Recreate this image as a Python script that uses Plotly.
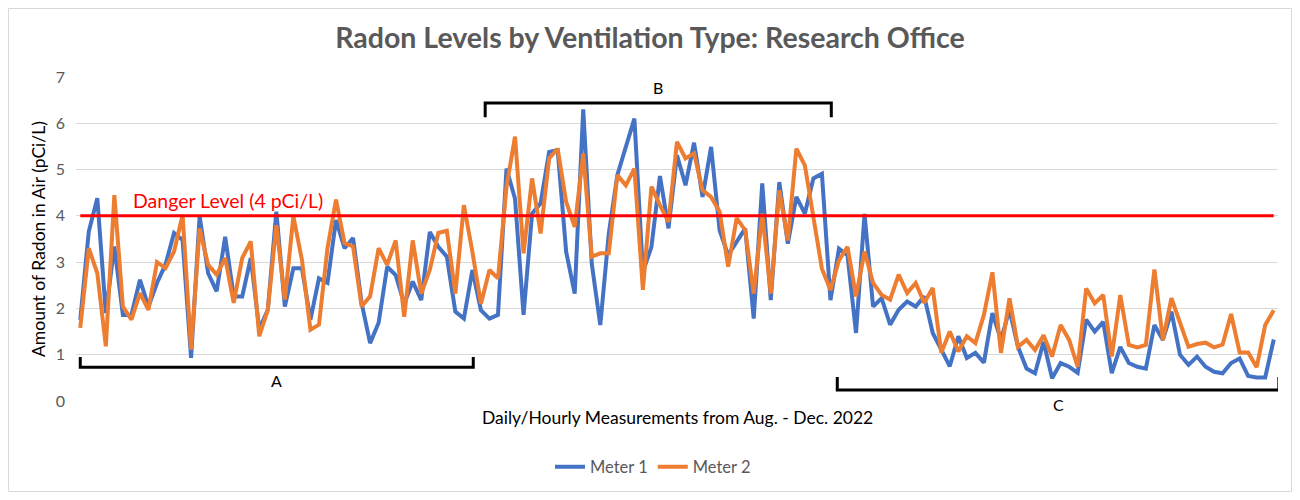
import plotly.graph_objects as go

meter1 = [1.75, 3.66, 4.38, 1.9, 3.34, 1.86, 1.86, 2.62, 2.04, 2.55, 2.95, 3.63, 3.48, 0.93, 3.99, 2.76, 2.37, 3.55,
          2.26, 2.26, 3.09, 1.55, 1.97, 4.09, 2.04, 2.87, 2.87, 1.76, 2.65, 2.55, 3.91, 3.3, 3.52, 2.12, 1.25, 1.69, 2.9,
          2.72, 2.1, 2.58, 2.18, 3.65, 3.33, 3.12, 1.93, 1.78, 2.83, 1.96, 1.78, 1.86, 5.02, 4.37, 1.86, 4.05, 4.27,
          5.38, 5.42, 3.22, 2.32, 6.3, 2.97, 1.64, 3.62, 4.88, 5.49, 6.1, 2.79, 3.33, 4.86, 3.73, 5.31, 4.66, 5.58,
          4.41, 5.49, 3.69, 3.15, 3.44, 3.73, 1.78, 4.7, 2.18, 4.73, 3.4, 4.41, 4.05, 4.81, 4.91, 2.18, 3.29, 3.15,
          1.47, 4.04, 2.04, 2.22, 1.65, 1.97, 2.15, 2.04, 2.26, 1.47, 1.11, 0.75, 1.4, 0.93, 1.04, 0.83, 1.9, 1.32, 1.97,
          1.17, 0.7, 0.6, 1.28, 0.49, 0.82, 0.74, 0.61, 1.76, 1.5, 1.71, 0.6, 1.17, 0.82, 0.74, 0.7, 1.64, 1.32,
          1.93, 1.0, 0.78, 0.96, 0.74, 0.63, 0.6, 0.82, 0.92, 0.54, 0.51, 0.51, 1.33]
meter2 = [1.58, 3.3, 2.76, 1.18, 4.45, 2.04, 1.76, 2.33, 1.97, 3.0, 2.87, 3.23, 4.02, 1.11, 3.73, 2.94, 2.73, 3.09,
          2.12, 3.09, 3.45, 1.4, 1.97, 3.8, 2.19, 3.99, 3.05, 1.54, 1.65, 3.3, 4.35, 3.41, 3.34, 2.04, 2.26, 3.3, 2.94,
          3.47, 1.82, 3.47, 2.32, 2.83, 3.63, 3.68, 2.32, 4.23, 3.22, 2.1, 2.83, 2.65, 4.63, 5.71, 3.19, 4.81, 3.62,
          5.24, 5.45, 4.3, 3.76, 5.35, 3.12, 3.19, 3.19, 4.88, 4.66, 5.02, 2.4, 4.63, 4.23, 3.87, 5.6, 5.24, 5.35,
          4.55, 4.41, 4.09, 2.9, 3.95, 3.69, 2.32, 4.05, 2.32, 4.55, 3.47, 5.45, 5.09, 3.97, 2.86, 2.4, 3.04, 3.33,
          2.26, 3.23, 2.55, 2.29, 2.19, 2.73, 2.33, 2.55, 2.12, 2.44, 1.04, 1.5, 1.07, 1.4, 1.25, 1.86, 2.78, 1.04, 2.22,
          1.17, 1.32, 1.1, 1.42, 0.96, 1.64, 1.32, 0.74, 2.43, 2.11, 2.29, 0.96, 2.29, 1.21, 1.16, 1.21, 2.84, 1.32,
          2.22, 1.68, 1.17, 1.23, 1.26, 1.16, 1.22, 1.88, 1.05, 1.05, 0.73, 1.64, 1.96]
danger_level = 4
danger_text = "Danger Level (4 pCi/L)"
y_ticks = [0, 1, 2, 3, 4, 5, 6, 7]
series_names = ["Meter 1", "Meter 2"]
# brackets: (label, x start, x end, bar y, tip y, label y)
brackets = [("A", 0, 46.1, 0.73, 0.95, 0.45),
            ("B", 47.5, 88.1, 6.44, 6.13, 6.78),
            ("C", 88.8, 140.6, 0.24, 0.52, -0.07)]

x = list(range(len(meter1)))
OFF = 8  # default page body margin
W, H = 1300 - 2 * OFF, 500 - 2 * OFF
PW, PH = 1202, 324
ML, MT = 76 - OFF, 77 - OFF
MR, MB = W - ML - PW, H - MT - PH
YMAX = 7
FONT = "Lato"

fig = go.Figure()
fig.add_trace(go.Scatter(x=x, y=meter1, mode="lines", name=series_names[0],
                         line=dict(color="#4472C4", width=4)))
fig.add_trace(go.Scatter(x=x, y=meter2, mode="lines", name=series_names[1],
                         line=dict(color="#ED7D31", width=4)))

shapes = []
shapes.append(dict(type="line", xref="x", yref="y", x0=0, x1=x[-1], y0=danger_level, y1=danger_level,
                   line=dict(color="#FF0000", width=3)))
annotations = [dict(x=6.0, y=danger_level + 0.34, xref="x", yref="y", text=danger_text,
                    showarrow=False, xanchor="left", yanchor="middle",
                    font=dict(color="#FF0000", size=19.5, family=FONT))]
for lab, xs, xe, yb, yt, yl in brackets:
    shapes.append(dict(type="path", xref="x", yref="y",
                       path=f"M {xs},{yt} L {xs},{yb} L {xe},{yb} L {xe},{yt}",
                       line=dict(color="black", width=3)))
    annotations.append(dict(x=(xs + xe) / 2, y=yl / YMAX, xref="x", yref="paper", text=lab, showarrow=False,
                            yanchor="middle", font=dict(color="black", size=16, family=FONT)))

annotations.append(dict(x=0.5, y=1 - (417 - 77) / PH, xref="paper", yref="paper",
                        text="Daily/Hourly Measurements from Aug. - Dec. 2022", showarrow=False,
                        font=dict(color="#000000", size=17.5, family=FONT), yanchor="middle"))
annotations.append(dict(x=(38 - 76) / PW, y=0.5, xref="paper", yref="paper",
                        text="Amount of Radon in Air (pCi/L)", showarrow=False, textangle=-90,
                        xanchor="center", yanchor="middle",
                        font=dict(color="#000000", size=17.5, family=FONT)))

shapes.append(dict(type="rect", xref="paper", yref="paper",
                   x0=(0.5 - ML) / PW, x1=(W - 0.5 - ML) / PW,
                   y0=1 - (H - 0.5 - MT) / PH, y1=1 - (0.5 - MT) / PH,
                   line=dict(color="#D9D9D9", width=1), layer="below"))

fig.update_layout(
    width=W, height=H,
    margin=dict(l=ML, r=MR, t=MT, b=MB, autoexpand=False),
    paper_bgcolor="white", plot_bgcolor="white",
    title=dict(text="<b>Radon Levels by Ventilation Type: Research Office</b>",
               x=(650 - OFF) / W, xref="container", xanchor="center",
               y=1 - (38 - OFF) / H, yref="container", yanchor="middle",
               font=dict(family=FONT, size=28.5, color="#595959")),
    xaxis=dict(range=[-0.5, len(x) - 0.5], showticklabels=False, showgrid=False, zeroline=False,
               ticks="", showline=False, automargin=False),
    yaxis=dict(range=[0, YMAX], tickvals=y_ticks, showgrid=True, gridcolor="#D9D9D9", gridwidth=1,
               zeroline=False, showline=False, ticks="", ticklabelstandoff=10, automargin=False,
               tickfont=dict(family=FONT, size=16, color="#595959")),
    legend=dict(orientation="h", x=(653 - OFF - ML) / PW, xanchor="center", xref="paper",
                y=1 - (467 - OFF) / H, yref="container",
                yanchor="middle", font=dict(family=FONT, size=16.5, color="#595959")),
    shapes=shapes, annotations=annotations,
)

fig.write_html("out.html")
